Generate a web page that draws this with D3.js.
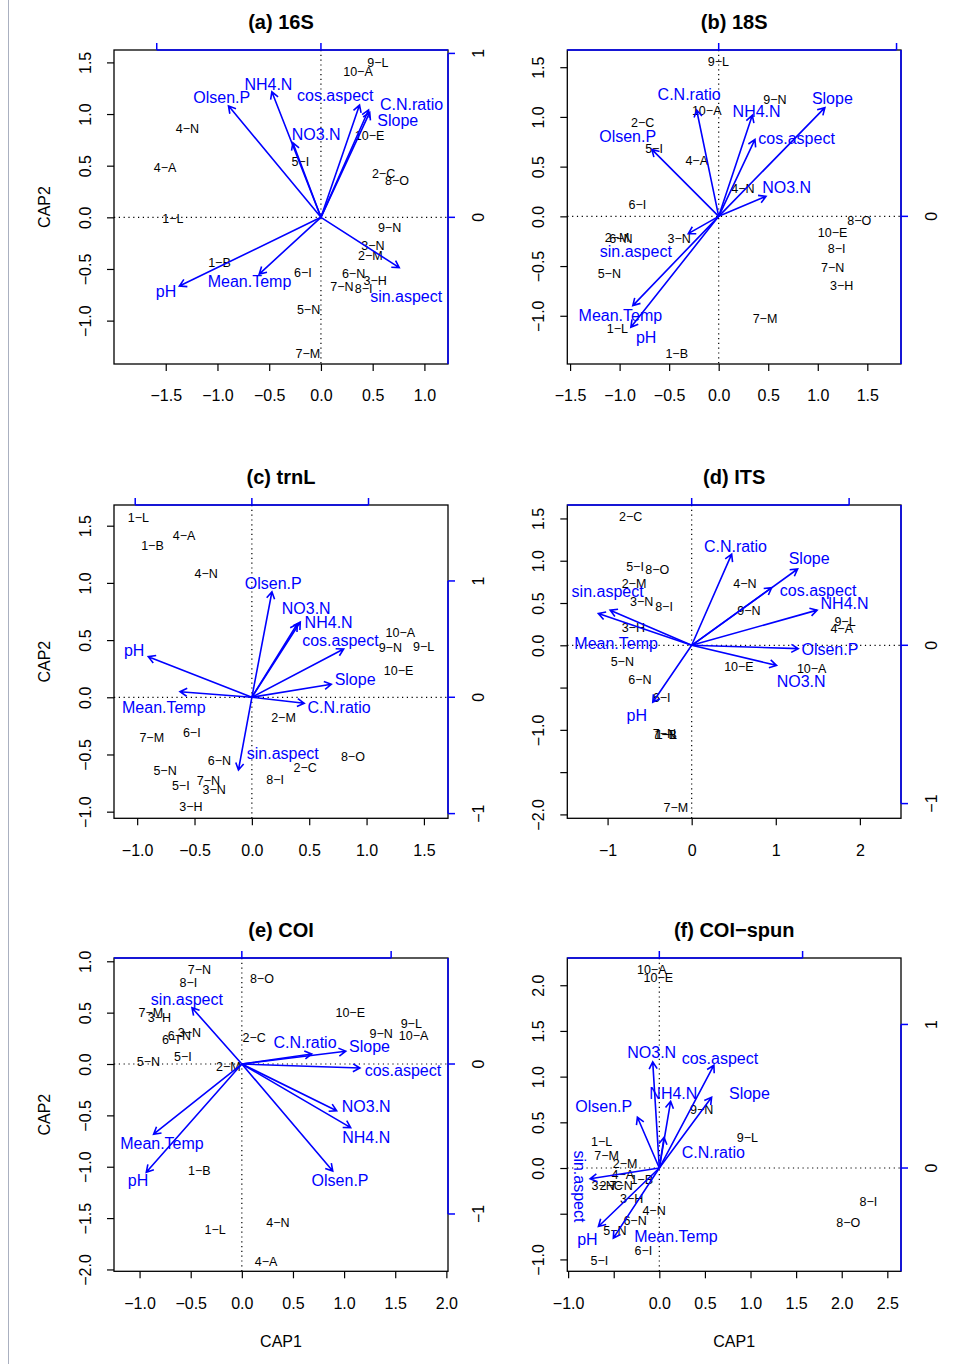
<!DOCTYPE html>
<html>
<head>
<meta charset="utf-8">
<script src="https://cdn.jsdelivr.net/npm/d3@7"></script>
<style>
  body { margin: 0; background: #fff; }
  svg text { font-family: "Liberation Sans", Arial, Helvetica, sans-serif; }
</style>
</head>
<body>
<svg id="chart" width="956" height="1364"></svg>
<script>
// sample ids and constraining variables (same order in every panel)
const siteIds = ["1-L", "1-B", "2-C", "2-M", "3-H", "3-N", "4-A", "4-N", "5-I", "5-N",
                 "6-I", "6-N", "7-M", "7-N", "8-I", "8-O", "9-L", "9-N", "10-A", "10-E"];
const envVars = ["pH", "Mean.Temp", "sin.aspect", "cos.aspect", "Slope",
                 "NO3.N", "NH4.N", "Olsen.P", "C.N.ratio"];

// site scores (CAP1, CAP2)
const sites16S = [[-1.431,-0.01],[-0.981,-0.44],[0.605,0.426],[0.477,-0.375],[0.525,-0.614],
  [0.503,-0.278],[-1.506,0.484],[-1.29,0.862],[-0.2,0.538],[-0.12,-0.891],[-0.174,-0.536],
  [0.315,-0.542],[-0.126,-1.317],[0.203,-0.672],[0.412,-0.687],[0.735,0.354],[0.551,1.497],
  [0.663,-0.097],[0.358,1.407],[0.47,0.787]];
const sites18S = [[-1.023,-1.132],[-0.424,-1.377],[-0.767,0.942],[-1.026,-0.215],[1.241,-0.699],
  [-0.398,-0.225],[-0.222,0.565],[0.245,0.279],[-0.653,0.682],[-1.104,-0.578],[-0.821,0.115],
  [-0.986,-0.225],[0.467,-1.024],[1.15,-0.514],[1.19,-0.326],[1.419,-0.04],[-0.004,1.552],
  [0.568,1.176],[-0.121,1.066],[1.15,-0.161]];
const sitesTrnL = [[-0.99,1.57],[-0.867,1.325],[0.465,-0.615],[0.276,-0.178],[-0.532,-0.956],
  [-0.329,-0.81],[-0.591,1.413],[-0.399,1.078],[-0.62,-0.773],[-0.757,-0.644],[-0.524,-0.309],
  [-0.283,-0.554],[-0.873,-0.353],[-0.379,-0.729],[0.203,-0.723],[0.881,-0.519],[1.497,0.442],
  [1.207,0.434],[1.294,0.568],[1.279,0.23]];
const sitesITS = [[-0.30,-1.055],[-0.31,-1.06],[-0.725,1.52],[-0.686,0.731],[-0.694,0.205],
  [-0.595,0.513],[1.784,0.198],[0.634,0.731],[-0.674,0.928],[-0.825,-0.19],[-0.357,-0.62],
  [-0.615,-0.406],[-0.187,-1.916],[-0.325,-1.045],[-0.329,0.462],[-0.409,0.9],[1.823,0.284],
  [0.681,0.406],[1.427,-0.276],[0.562,-0.257]];
const sitesCOI = [[-0.261,-1.613],[-0.415,-1.039],[0.12,0.26],[-0.131,-0.022],[-0.806,0.448],
  [-0.513,0.302],[0.238,-1.921],[0.352,-1.548],[-0.577,0.075],[-0.914,0.026],[-0.695,0.237],
  [-0.611,0.279],[-0.89,0.497],[-0.415,0.921],[-0.523,0.789],[0.196,0.831],[1.657,0.389],
  [1.363,0.292],[1.679,0.279],[1.06,0.497]];
const sitesCOIspun = [[-0.632,0.284],[-0.193,-0.128],[-0.529,-0.197],[-0.376,0.044],[-0.303,-0.336],
  [-0.617,-0.197],[-0.401,-0.073],[-0.058,-0.463],[-0.658,-1.014],[-0.486,-0.686],[-0.175,-0.905],
  [-0.266,-0.577],[-0.577,0.139],[-0.419,-0.197],[2.292,-0.372],[2.072,-0.602],[0.965,0.328],
  [0.465,0.638],[-0.083,2.17],[-0.011,2.079]];

// biplot arrow tips (biplot units) and where their labels sit
const arrows16S = [[-0.862,-0.419],[-0.376,-0.346],[0.477,-0.307],[0.235,0.685],[0.297,0.64],
  [-0.171,0.455],[-0.299,0.766],[-0.563,0.68],[0.29,0.655]];
const arrowLabels16S = [[-0.943,-0.454],[-0.435,-0.393],[0.519,-0.484],[0.087,0.741],[0.468,0.589],
  [-0.029,0.506],[-0.32,0.813],[-0.604,0.732],[0.552,0.689]];
const arrows18S = [[-0.494,-0.621],[-0.483,-0.5],[-0.171,-0.097],[0.204,0.431],[0.597,0.609],
  [0.266,0.112],[0.189,0.566],[-0.376,0.375],[-0.124,0.596]];
const arrowLabels18S = [[-0.408,-0.68],[-0.553,-0.556],[-0.466,-0.197],[0.438,0.437],[0.639,0.661],
  [0.382,0.16],[0.213,0.59],[-0.512,0.446],[-0.166,0.684]];
const arrowsTrnL = [[-0.888,0.349],[-0.616,0.048],[-0.115,-0.625],[0.787,0.415],[0.681,0.112],
  [0.389,0.63],[0.415,0.647],[0.172,0.907],[0.449,-0.052]];
const arrowLabelsTrnL = [[-1.009,0.406],[-0.755,-0.086],[0.265,-0.481],[0.759,0.492],[0.885,0.155],
  [0.466,0.765],[0.658,0.641],[0.183,0.979],[0.748,-0.086]];
const arrowsITS = [[-0.247,-0.36],[-0.518,0.222],[-0.593,0.201],[0.508,0.364],[0.673,0.482],
  [0.539,-0.127],[0.797,0.222],[0.677,-0.021],[0.254,0.576]];
const arrowLabelsITS = [[-0.349,-0.44],[-0.48,0.011],[-0.534,0.338],[0.803,0.349],[0.746,0.55],
  [0.695,-0.228],[0.971,0.265],[0.878,-0.025],[0.278,0.624]];
const arrowsCOI = [[-0.64,-0.722],[-0.591,-0.468],[-0.334,0.375],[0.791,-0.027],[0.696,0.085],
  [0.635,-0.312],[0.729,-0.424],[0.609,-0.714],[0.468,0.067]];
const arrowLabelsCOI = [[-0.695,-0.778],[-0.535,-0.528],[-0.368,0.43],[1.079,-0.045],[0.855,0.118],
  [0.833,-0.283],[0.833,-0.49],[0.658,-0.778],[0.423,0.145]];
const arrowsCOIspun = [[-0.425,-0.407],[-0.321,-0.488],[-0.483,-0.075],[0.381,0.716],[0.365,0.493],
  [-0.046,0.739],[0.079,0.465],[-0.153,0.354],[0.033,0.214]];
const arrowLabelsCOIspun = [[-0.502,-0.495],[0.116,-0.476],[-0.558,-0.128],[0.423,0.767],[0.629,0.523],
  [-0.053,0.802],[0.098,0.523],[-0.388,0.43],[0.377,0.112]];

// panel titles, axis ranges and ticks
const panelTitles = ["(a) 16S", "(b) 18S", "(c) trnL", "(d) ITS", "(e) COI", "(f) COI\u2212spun"];
const xDomains = [[-2.0, 1.228], [-1.528, 1.84], [-1.202, 1.71], [-1.479, 2.489], [-1.25, 2.016], [-1.009, 2.65]];
const yDomains = [[-1.42, 1.62], [-1.485, 1.673], [-1.058, 1.681], [-2.046, 1.659], [-2.018, 1.032], [-1.13, 2.298]];
const xTickValues = [
  [-1.5, -1, -0.5, 0, 0.5, 1],
  [-1.5, -1, -0.5, 0, 0.5, 1, 1.5],
  [-1, -0.5, 0, 0.5, 1, 1.5],
  [-1, 0, 1, 2],
  [-1, -0.5, 0, 0.5, 1, 1.5, 2],
  [-1, -0.5, 0, 0.5, 1, 1.5, 2, 2.5]
];
const yTickValues = [
  [-1, -0.5, 0, 0.5, 1, 1.5],
  [-1, -0.5, 0, 0.5, 1, 1.5],
  [-1, -0.5, 0, 0.5, 1, 1.5],
  [-2, -1.5, -1, -0.5, 0, 0.5, 1, 1.5],
  [-2, -1.5, -1, -0.5, 0, 0.5, 1],
  [-1, -0.5, 0, 0.5, 1, 1.5, 2]
];
// tick labels R dropped because they would overlap
const xHiddenLabels = [[], [], [], [], [], [-0.5]];
const yHiddenLabels = [[], [], [], [-1.5, -0.5], [], [-0.5]];
const xDecimals = [1, 1, 1, 0, 1, 1];
// biplot scaling: data units per biplot unit, and the biplot axis ticks
const arrowMults = [1.587, 1.795, 1.017, 1.872, 1.46, 1.571];
const biplotTicks = [-1, 0, 1];

const siteSets = [sites16S, sites18S, sitesTrnL, sitesITS, sitesCOI, sitesCOIspun];
const arrowSets = [arrows16S, arrows18S, arrowsTrnL, arrowsITS, arrowsCOI, arrowsCOIspun];
const labelSets = [arrowLabels16S, arrowLabels18S, arrowLabelsTrnL, arrowLabelsITS, arrowLabelsCOI, arrowLabelsCOIspun];

const BLUE = "#0000ff";
const minus = s => String(s).replace(/-/g, "\u2212");

/*
* Disegna un pannello (biplot CAP) dentro il riquadro indicato
*/
function drawPanel(svg, i, box) {
  const g = svg.append("g");
  const x = d3.scaleLinear().domain(xDomains[i]).range([box.x0, box.x1]);
  const y = d3.scaleLinear().domain(yDomains[i]).range([box.y1, box.y0]);
  const mult = arrowMults[i];
  const bx = v => x(v * mult);
  const by = v => y(v * mult);

  const clipId = "clip" + i;
  g.append("clipPath").attr("id", clipId)
    .append("rect")
    .attr("x", box.x0).attr("y", box.y0)
    .attr("width", box.x1 - box.x0).attr("height", box.y1 - box.y0);

  // assi in basso e a sinistra
  const fmtX = v => xHiddenLabels[i].includes(v) ? "" : minus(v.toFixed(xDecimals[i]));
  const fmtY = v => yHiddenLabels[i].includes(v) ? "" : minus(v.toFixed(1));

  const ax = g.append("g")
    .attr("transform", `translate(0,${box.y1})`)
    .call(d3.axisBottom(x).tickValues(xTickValues[i]).tickFormat(fmtX).tickSize(7).tickPadding(19));
  ax.select(".domain").remove();

  const ay = g.append("g")
    .attr("transform", `translate(${box.x0},0)`)
    .call(d3.axisLeft(y).tickValues(yTickValues[i]).tickFormat(fmtY).tickSize(7));
  ay.select(".domain").remove();
  ay.selectAll("text")
    .attr("x", 0).attr("dy", "0.35em")
    .attr("text-anchor", "middle")
    .attr("transform", "translate(-29,0) rotate(-90)");

  [ax, ay].forEach(a => {
    a.attr("font-family", null).attr("font-size", 16);
    a.selectAll("line").attr("stroke", "#000").attr("stroke-width", 1.2);
    a.selectAll("text").attr("fill", "#000");
  });

  // linee tratteggiate per lo zero
  const plot = g.append("g").attr("clip-path", `url(#${clipId})`);
  plot.append("line")
    .attr("x1", x(0)).attr("x2", x(0)).attr("y1", box.y0).attr("y2", box.y1)
    .attr("stroke", "#000").attr("stroke-width", 1.2).attr("stroke-dasharray", "1.2,3.6");
  plot.append("line")
    .attr("x1", box.x0).attr("x2", box.x1).attr("y1", y(0)).attr("y2", y(0))
    .attr("stroke", "#000").attr("stroke-width", 1.2).attr("stroke-dasharray", "1.2,3.6");

  // cornice
  g.append("rect")
    .attr("x", box.x0).attr("y", box.y0)
    .attr("width", box.x1 - box.x0).attr("height", box.y1 - box.y0)
    .attr("fill", "none").attr("stroke", "#000").attr("stroke-width", 1.3);

  // assi blu (scala delle frecce): sopra e a destra
  const tMin = d3.min(biplotTicks), tMax = d3.max(biplotTicks);
  const topX1 = Math.max(box.x0, bx(tMin)), topX2 = Math.min(box.x1, bx(tMax));
  g.append("line")
    .attr("x1", topX1).attr("x2", topX2).attr("y1", box.y0).attr("y2", box.y0)
    .attr("stroke", BLUE).attr("stroke-width", 1.5);
  const rY1 = Math.max(box.y0, by(tMax)), rY2 = Math.min(box.y1, by(tMin));
  g.append("line")
    .attr("x1", box.x1).attr("x2", box.x1).attr("y1", rY1).attr("y2", rY2)
    .attr("stroke", BLUE).attr("stroke-width", 1.5);

  biplotTicks.forEach(t => {
    const tx = bx(t);
    if (tx >= box.x0 - 0.5 && tx <= box.x1 + 0.5) {
      g.append("line")
        .attr("x1", tx).attr("x2", tx).attr("y1", box.y0).attr("y2", box.y0 - 7)
        .attr("stroke", BLUE).attr("stroke-width", 1.5);
    }
    const ty = by(t);
    if (ty >= box.y0 - 0.5 && ty <= box.y1 + 0.5) {
      g.append("line")
        .attr("x1", box.x1).attr("x2", box.x1 + 7).attr("y1", ty).attr("y2", ty)
        .attr("stroke", BLUE).attr("stroke-width", 1.5);
      g.append("text")
        .attr("transform", `translate(${box.x1 + 30},${ty}) rotate(-90)`)
        .attr("text-anchor", "middle").attr("dy", "0.35em")
        .attr("font-size", 16).attr("fill", "#000")
        .text(minus(t));
    }
  });

  // etichette dei siti
  plot.selectAll("text.site")
    .data(siteSets[i].map((d, k) => ({ id: siteIds[k], v: d })))
    .enter()
    .append("text")
    .attr("class", "site")
    .attr("x", d => x(d.v[0]))
    .attr("y", d => y(d.v[1]))
    .attr("dy", "0.35em")
    .attr("text-anchor", "middle")
    .attr("font-size", 12.5)
    .attr("fill", "#000")
    .text(d => minus(d.id));

  // frecce delle variabili
  const ox = x(0), oy = y(0);
  const arrows = arrowSets[i].map((d, k) => ({
    name: envVars[k], tip: d, lab: labelSets[i][k]
  }));
  arrows.forEach(a => {
    const tx = bx(a.tip[0]), ty = by(a.tip[1]);
    const ang = Math.atan2(ty - oy, tx - ox);
    const len = 8, spread = Math.PI / 6;
    const h1 = [tx - len * Math.cos(ang - spread), ty - len * Math.sin(ang - spread)];
    const h2 = [tx - len * Math.cos(ang + spread), ty - len * Math.sin(ang + spread)];
    g.append("path")
      .attr("d", `M${ox},${oy}L${tx},${ty}M${h1[0]},${h1[1]}L${tx},${ty}L${h2[0]},${h2[1]}`)
      .attr("fill", "none")
      .attr("stroke", BLUE)
      .attr("stroke-width", 1.6);

    const lx = bx(a.lab[0]), ly = by(a.lab[1]);
    const vertical = i === 5 && a.name === "sin.aspect";
    g.append("text")
      .attr("transform", vertical ? `translate(${lx},${ly}) rotate(90)` : `translate(${lx},${ly})`)
      .attr("dy", "0.35em")
      .attr("text-anchor", "middle")
      .attr("font-size", 16)
      .attr("fill", BLUE)
      .text(a.name);
  });

  // titolo
  g.append("text")
    .attr("x", (box.x0 + box.x1) / 2)
    .attr("y", box.y0 - 28)
    .attr("dy", "0.35em")
    .attr("text-anchor", "middle")
    .attr("font-size", 20)
    .attr("font-weight", "bold")
    .attr("fill", "#000")
    .text(panelTitles[i]);

  if (i % 2 === 0) {
    g.append("text")
      .attr("transform", `translate(44,${(box.y0 + box.y1) / 2}) rotate(-90)`)
      .attr("dy", "0.35em")
      .attr("text-anchor", "middle")
      .attr("font-size", 16)
      .attr("fill", "#000")
      .text("CAP2");
  }
  if (i >= 4) {
    g.append("text")
      .attr("x", (box.x0 + box.x1) / 2)
      .attr("y", box.y1 + 70)
      .attr("dy", "0.35em")
      .attr("text-anchor", "middle")
      .attr("font-size", 16)
      .attr("fill", "#000")
      .text("CAP1");
  }
}

const svg = d3.select("#chart");
svg.append("rect").attr("width", 956).attr("height", 1364).attr("fill", "#fff");
svg.append("line")
  .attr("x1", 8.5).attr("x2", 8.5).attr("y1", 0).attr("y2", 1364)
  .attr("stroke", "#aab0c0").attr("stroke-width", 1);

const colX = [[114, 448], [567.3, 901]];
const rowY = [[50, 364], [505, 818.3], [958, 1271.3]];
for (let i = 0; i < 6; i++) {
  const c = colX[i % 2], r = rowY[Math.floor(i / 2)];
  drawPanel(svg, i, { x0: c[0], x1: c[1], y0: r[0], y1: r[1] });
}
</script>
</body>
</html>
